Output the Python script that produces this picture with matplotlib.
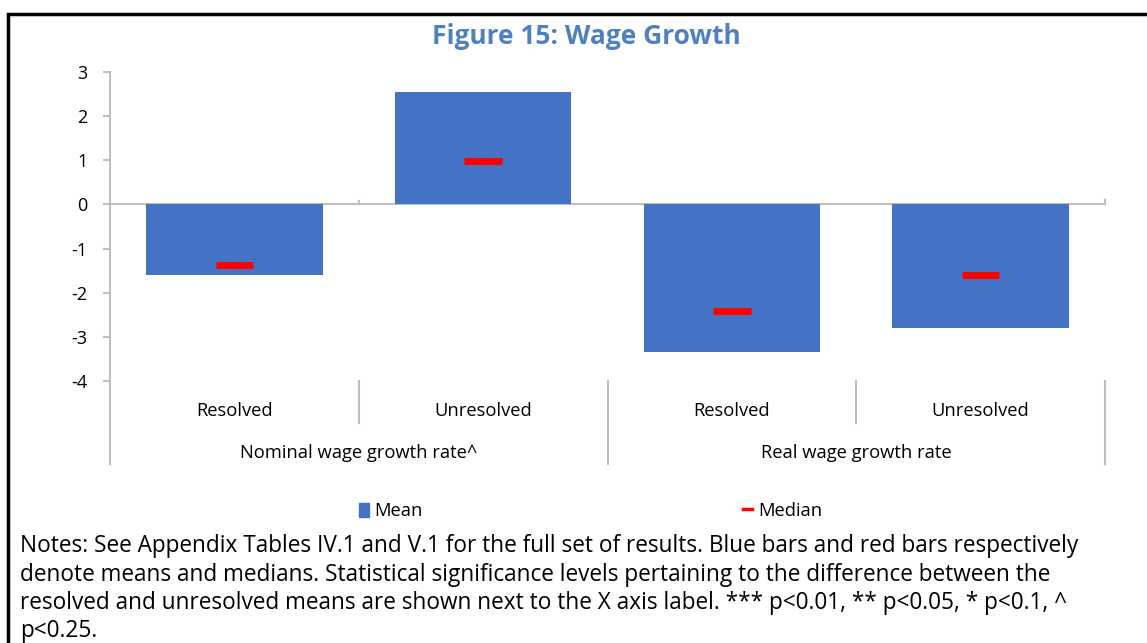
import matplotlib.pyplot as plt
from matplotlib.patches import Patch, Rectangle
from matplotlib.lines import Line2D

# Data
groups = ["Nominal wage growth rate^", "Real wage growth rate"]
categories = ["Resolved", "Unresolved", "Resolved", "Unresolved"]
mean_vals = [-1.59, 2.54, -3.35, -2.81]
median_vals = [-1.38, 0.99, -2.42, -1.61]
yticks = [3, 2, 1, 0, -1, -2, -3, -4]

notes_lines = [
    "Notes: See Appendix Tables IV.1 and V.1 for the full set of results. Blue bars and red bars respectively",
    "denote means and medians. Statistical significance levels pertaining to the difference between the",
    "resolved and unresolved means are shown next to the X axis label. *** p<0.01, ** p<0.05, * p<0.1, ^",
    "p<0.25.",
]

blue = "#4472c4"
red = "#ff0000"
grey = "#bfbfbf"
title_col = "#4f81bd"

plt.rcParams['font.family'] = ['Open Sans', 'DejaVu Sans']

fig = plt.figure(figsize=(11.47, 6.43), dpi=100)
ax = fig.add_axes([110 / 1147, 1 - 381 / 643, 995 / 1147, 309 / 643])

x = list(range(len(categories)))
ax.bar(x, mean_vals, width=0.71, color=blue, zorder=2)
ax.hlines(median_vals, [i - 0.075 for i in x], [i + 0.075 for i in x],
          color=red, lw=5, zorder=3)

ax.set_xlim(-0.5, 3.5)
ax.set_ylim(-4, 3)
ax.set_yticks(yticks)
ax.set_yticklabels([str(v) for v in yticks], fontsize=13)
ax.tick_params(axis='y', length=5, color=grey, width=1.5, pad=11)
ax.set_xticks([])

for s in ['top', 'right', 'bottom']:
    ax.spines[s].set_visible(False)
ax.spines['left'].set_color(grey)
ax.spines['left'].set_linewidth(1.5)
ax.axhline(0, color=grey, lw=1.5, zorder=1)
# small ticks on the zero line
ax.plot([3.5, 3.5], [0, 0.1], color=grey, lw=1.5, clip_on=False)
ax.plot([0.5, 0.5], [0, 0.08], color=grey, lw=1.5, clip_on=False)

# category separators below the plot
tr = ax.get_xaxis_transform()
for xs in [0.5, 2.5]:
    ax.plot([xs, xs], [0, -0.136], color=grey, lw=1.5, transform=tr, clip_on=False)
for xs in [-0.5, 1.5, 3.5]:
    ax.plot([xs, xs], [0, -0.269], color=grey, lw=1.5, transform=tr, clip_on=False)

for i, c in enumerate(categories):
    ax.text(i, -0.097, c, transform=tr, ha='center', va='center', fontsize=13.2)
for j, g in enumerate(groups):
    ax.text(2 * j + 0.5, -0.233, g, transform=tr, ha='center', va='center', fontsize=13.2)

fig.text(586 / 1147, 1 - 36 / 643, "Figure 15: Wage Growth", ha='center', va='center',
         fontsize=19, fontweight='bold', color=title_col)

handles = [Patch(color=blue, label="Mean"),
           Line2D([0], [0], color=red, lw=2.5, label="Median")]
fig.legend(handles=handles, loc='center', bbox_to_anchor=(0.515, 1 - 511 / 643), ncol=2,
           frameon=False, fontsize=13.2, handlelength=0.5, handleheight=0.8,
           handletextpad=0.3, columnspacing=17.5)

# notes, one line at a time so the spacing is fixed
for k, line in enumerate(notes_lines):
    fig.text(20 / 1147, 1 - (552.5 + 28.3 * k) / 643, line, ha='left', va='baseline',
             fontsize=16.3)

fig.patches.append(Rectangle((8 / 1147, -0.1), 1.2, 1 - 14 / 643 + 0.1, transform=fig.transFigure,
                             fill=False, edgecolor='black', lw=2.5))

fig.savefig("out.png", dpi=100)
